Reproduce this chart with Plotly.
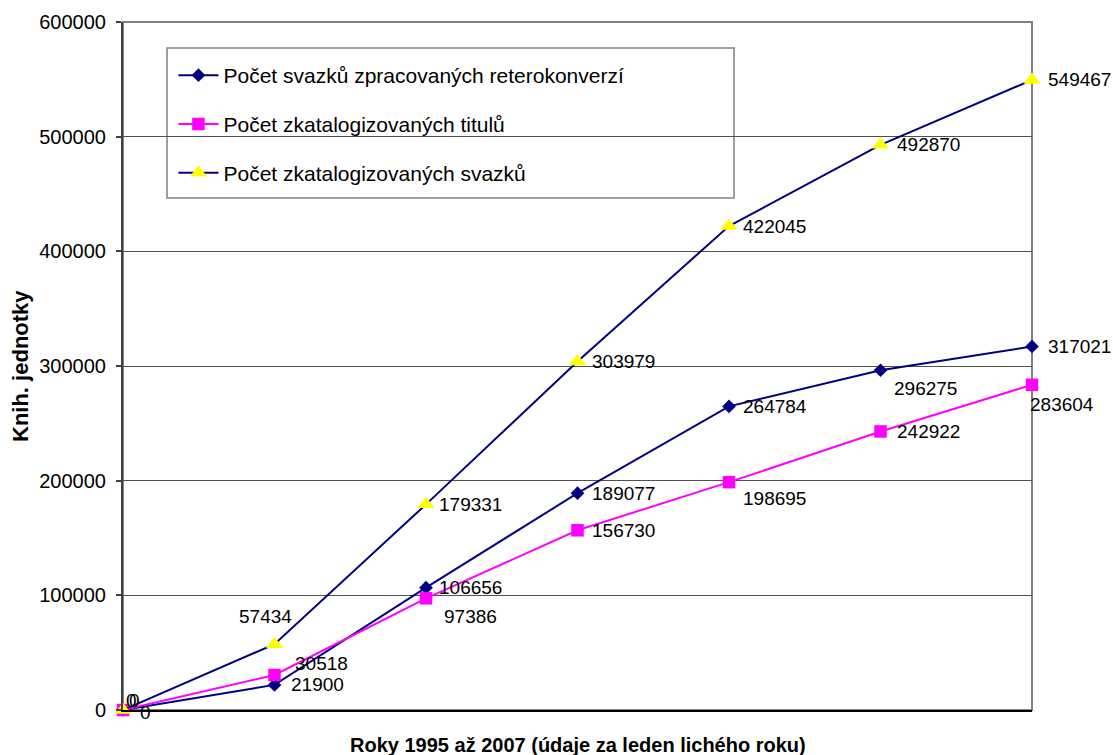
import plotly.graph_objects as go

years = [1995, 1997, 1999, 2001, 2003, 2005, 2007]
series_names = [
    "Počet svazků zpracovaných reterokonverzí",
    "Počet zkatalogizovaných titulů",
    "Počet zkatalogizovaných svazků",
]
retro_volumes = [0, 21900, 106656, 189077, 264784, 296275, 317021]
catalog_titles = [0, 30518, 97386, 156730, 198695, 242922, 283604]
catalog_volumes = [0, 57434, 179331, 303979, 422045, 492870, 549467]
y_ticks = [0, 100000, 200000, 300000, 400000, 500000, 600000]

x_title = "Roky 1995 až 2007 (údaje za leden lichého roku)"
y_title = "Knih. jednotky"

FONT = "Liberation Sans, Arial, sans-serif"
NAVY = "#000080"
MAGENTA = "#FF00FF"
YELLOW = "#FFFF00"

# label offsets (px, right/down positive) - styling only
off_retro = [(15, 2), (14, 0), (11, 0), (12, 0), (12, 0), (11, 18), (14, 0)]
off_titles = [(4, -10), (18, -12), (16, 18), (12, 0), (12, 16), (14, 0), (-4, 20)]
off_vols = [(1, -10), (-38, -28), (11, 0), (12, 0), (12, 0), (14, 0), (14, 0)]

fig = go.Figure()

styles = [
    (retro_volumes, dict(color=NAVY, width=2), dict(symbol="diamond", size=10.5, color=NAVY), off_retro),
    (catalog_titles, dict(color=MAGENTA, width=2), dict(symbol="square", size=12.5, color=MAGENTA), off_titles),
    (catalog_volumes, dict(color=NAVY, width=2), dict(symbol="triangle-up", size=15, color=YELLOW), off_vols),
]

annotations = []
for idx, (vals, line, marker, offs) in enumerate(styles):
    fig.add_trace(go.Scatter(
        x=years, y=vals, mode="lines+markers", name=series_names[idx],
        line=line, marker=marker, legendgroup=f"g{idx}", cliponaxis=False,
    ))
    for xv, yv, (dx, dy) in zip(years, vals, offs):
        annotations.append(dict(
            x=xv, y=yv, xref="x", yref="y", text=f"{yv}", showarrow=False,
            xanchor="left", yanchor="middle", xshift=dx, yshift=-dy,
            font=dict(family=FONT, size=19, color="#000000"),
        ))

annotations.append(dict(
    x=-0.1133, y=0.5, xref="paper", yref="paper", text=f"<b>{y_title}</b>",
    textangle=-90, showarrow=False, xanchor="center", yanchor="middle",
    font=dict(family=FONT, size=22, color="#000000"),
))
annotations.append(dict(
    x=0.5, y=-0.0509, xref="paper", yref="paper", text=f"<b>{x_title}</b>",
    showarrow=False, xanchor="center", yanchor="middle",
    font=dict(family=FONT, size=20, color="#000000"),
))

shapes = [
    dict(type="rect", xref="paper", yref="paper", x0=0, x1=1, y0=0, y1=1,
         line=dict(color="#808080", width=2), fillcolor="rgba(0,0,0,0)", layer="below"),
    dict(type="rect", xref="paper", yref="paper",
         x0=(167 - 123) / 909, x1=(734 - 123) / 909,
         y0=(710 - 198) / 688, y1=(710 - 48) / 688,
         line=dict(color="#808080", width=1.5), fillcolor="#FFFFFF", layer="between"),
]

fig.update_layout(
    width=1113, height=755,
    margin=dict(l=123, r=81, t=22, b=45),
    paper_bgcolor="#FFFFFF", plot_bgcolor="#FFFFFF",
    font=dict(family=FONT, size=19, color="#000000"),
    showlegend=True,
    legend=dict(
        x=(178 - 123) / 909 - 0.005, y=(710 - 55) / 688, xanchor="left", yanchor="top",
        bgcolor="rgba(0,0,0,0)", borderwidth=0, itemwidth=40,
        traceorder="grouped", tracegroupgap=18.5,
        font=dict(family=FONT, size=21, color="#000000"),
    ),
    annotations=annotations,
    shapes=shapes,
    xaxis=dict(
        range=[1995, 2007], showticklabels=False, ticks="", showgrid=False,
        zeroline=False, showline=True, linecolor="#000000", linewidth=2,
    ),
    yaxis=dict(
        range=[0, 600000], tickvals=y_ticks, ticktext=[str(v) for v in y_ticks],
        ticks="outside", ticklen=5, tickcolor="#404040", tickwidth=1.5,
        showgrid=True, gridcolor="#505050", gridwidth=1, zeroline=False,
        showline=True, linecolor="#404040", linewidth=2,
        tickfont=dict(family=FONT, size=20, color="#000000"),
        ticklabelstandoff=6,
    ),
)

fig.write_html(
    "out.html",
    config={"displayModeBar": False},
    post_script="document.body.style.margin='0';",
)
